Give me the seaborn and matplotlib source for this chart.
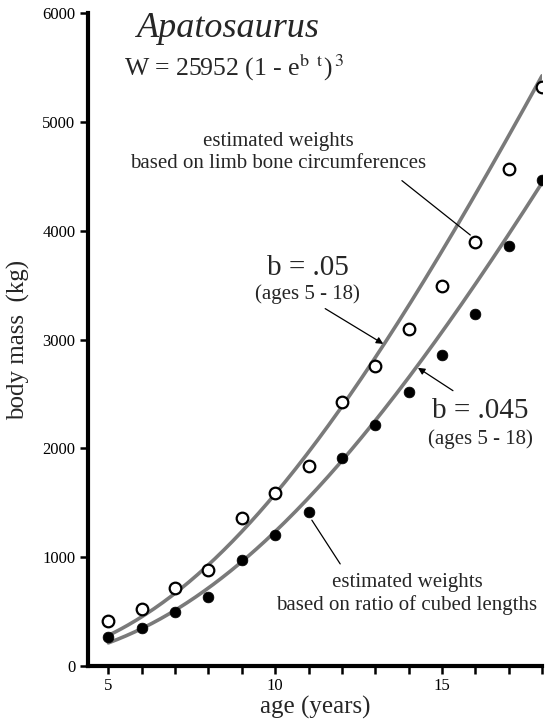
import numpy as np
import pandas as pd
import matplotlib
matplotlib.use("Agg")
import matplotlib.pyplot as plt
import seaborn as sns

# ---- data ----
ages = [5, 6, 7, 8, 9, 10, 11, 12, 13, 14, 15, 16, 17, 18]
limb_bone = [410, 525, 720, 880, 1360, 1590, 1840, 2430, 2755, 3100, 3490, 3900, 4570, 5320]
cubed_len = [270, 345, 500, 630, 975, 1200, 1415, 1915, 2210, 2520, 2860, 3230, 3860, 4470]
asymptote = 25952
b_upper = 0.05
b_lower = 0.045
x_ticks = list(range(5, 19))
x_labels = ["5" if t == 5 else "10" if t == 10 else "15" if t == 15 else "" for t in x_ticks]
y_ticks = [0, 1000, 2000, 3000, 4000, 5000, 6000]

sns.set_style("ticks")
plt.rcParams["font.family"] = ["Liberation Serif", "DejaVu Serif"]
plt.rcParams["mathtext.fontset"] = "stix"

fig = plt.figure(figsize=(5.47, 7.25), dpi=100)
ax = fig.add_axes([0.1609, 0.0814, 0.83, 0.9006])

t = np.linspace(5, 18, 200)
curves = pd.DataFrame({
    "age": np.concatenate([t, t]),
    "mass": np.concatenate([asymptote * (1 - np.exp(-b_upper * t)) ** 3,
                            asymptote * (1 - np.exp(-b_lower * t)) ** 3]),
    "fit": ["upper"] * len(t) + ["lower"] * len(t),
})
sns.lineplot(data=curves, x="age", y="mass", units="fit", estimator=None,
             color="#7a7a7a", lw=2.6, ax=ax, legend=False, zorder=2)

pts = pd.DataFrame({"age": ages, "limb": limb_bone, "cubed": cubed_len})
sns.scatterplot(data=pts, x="age", y="limb", s=70, facecolor="white",
                edgecolor="black", linewidth=1.6, ax=ax, zorder=3)
sns.scatterplot(data=pts, x="age", y="cubed", s=60, color="black",
                edgecolor="black", linewidth=0.5, ax=ax, zorder=3)

ax.set_xlim(4.39, 18)
ax.set_ylim(0, 6000)
ax.set_xticks(x_ticks)
ax.set_xticklabels(x_labels)
ax.set_yticks(y_ticks)
ax.set_yticklabels([str(v) for v in y_ticks])
ax.tick_params(axis="both", direction="out", length=6, width=1.8, labelsize=12,
               colors="black", pad=3)
for s in ["left", "bottom"]:
    ax.spines[s].set_linewidth(3)
    ax.spines[s].set_color("black")
sns.despine(ax=ax)
ax.set_xlabel("age (years)", fontsize=18, labelpad=1)
ax.set_ylabel("body mass  (kg)", fontsize=18, labelpad=9)

ax.text(8.6, 5860, "Apatosaurus", fontsize=26, style="italic", ha="center", va="center")
ax.text(5.47, 5500, r"W = 25952 (1 - e$^{\mathrm{b\ \ t}}$)$^{\,\mathrm{3}}$", fontsize=18.5,
        ha="left", va="center")

ax.text(10.1, 4720, "estimated weights\nbased on limb bone circumferences",
        fontsize=15, ha="center", va="center", linespacing=1.25)
ax.plot([13.8, 15.85], [4460, 3960], color="black", lw=0.9)

ax.text(10.97, 3660, "b = .05", fontsize=21, ha="center", va="center")
ax.text(10.97, 3420, "(ages 5 - 18)", fontsize=15, ha="center", va="center")
ax.annotate("", xy=(13.24, 2960), xytext=(11.5, 3284),
            arrowprops=dict(arrowstyle="-|>", color="black", lw=0.9,
                            mutation_scale=10, shrinkA=0, shrinkB=0))

ax.text(16.16, 2346, "b = .045", fontsize=21, ha="center", va="center")
ax.text(16.16, 2088, "(ages 5 - 18)", fontsize=15, ha="center", va="center")
ax.annotate("", xy=(14.28, 2740), xytext=(15.33, 2530),
            arrowprops=dict(arrowstyle="-|>", color="black", lw=0.9,
                            mutation_scale=10, shrinkA=0, shrinkB=0))

ax.text(13.95, 662, "estimated weights\nbased on ratio of cubed lengths",
        fontsize=15, ha="center", va="center", linespacing=1.25)
ax.plot([11.95, 11.1], [938, 1340], color="black", lw=0.9)

fig.savefig("out.png", dpi=100, facecolor="white")
